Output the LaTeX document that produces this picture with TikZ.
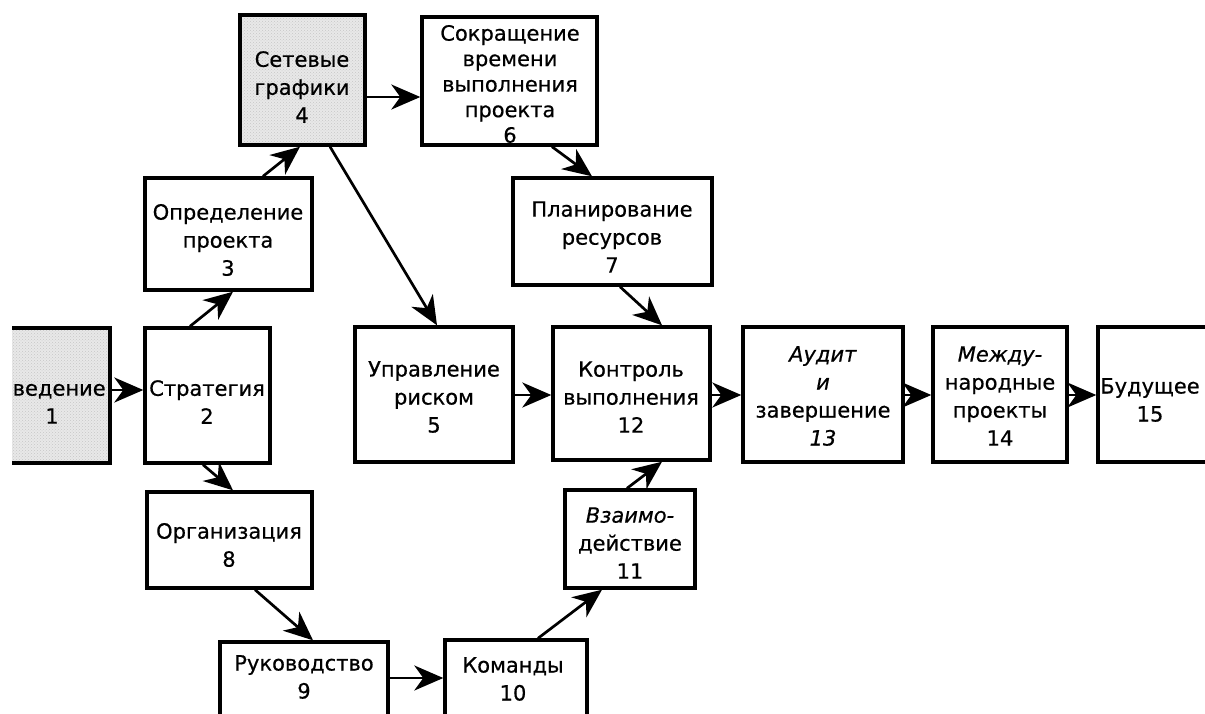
\documentclass[tikz,border=0pt]{standalone}
\usepackage{fontspec}
\setmainfont{DejaVu Sans}
\newfontfamily\boxfont{DejaVu Sans}[FakeBold=0.6]
\usetikzlibrary{arrows.meta,fit,patterns}
\begin{document}
\begin{tikzpicture}[x=1pt,y=-1pt,
  box/.style={draw=black, line width=3.4pt, inner sep=0pt, rectangle},
  shaded/.style={preaction={fill=black!9}, pattern=crosshatch dots, pattern color=black!22},
  lbl/.style={align=center, font=\boxfont\fontsize{21}{28}\selectfont, inner sep=0pt},
  tight/.style={font=\boxfont\fontsize{21}{25.5}\selectfont},
  arr/.style={line width=2.7pt, -{Stealth[length=29pt,width=25pt,inset=9pt]}},
]
\useasboundingbox (0,0) rectangle (1205,713);
\clip (12,0) rectangle (1205,713);

% boxes
\node[box, shaded, fit={(0,328) (110,463)}] (n1) {};
\node[box, fit={(145,328) (270,463)}] (n2) {};
\node[box, fit={(145,178) (312,290)}] (n3) {};
\node[box, shaded, fit={(240,15) (365,145)}] (n4) {};
\node[box, fit={(355,327) (513,462)}] (n5) {};
\node[box, fit={(422,17) (597,145)}] (n6) {};
\node[box, fit={(513,178) (712,285)}] (n7) {};
\node[box, fit={(147,492) (312,588)}] (n8) {};
\node[box, fit={(220,642) (388,735)}] (n9) {};
\node[box, fit={(445,640) (587,735)}] (n10) {};
\node[box, fit={(565,490) (695,588)}] (n11) {};
\node[box, fit={(553,327) (710,460)}] (n12) {};
\node[box, fit={(743,327) (903,462)}] (n13) {};
\node[box, fit={(933,327) (1067,462)}] (n14) {};
\node[box, fit={(1098,327) (1215,462)}] (n15) {};

% labels
\node[lbl] (t1) at (52,402) {Введение\\1};
\node[lbl] (t2) at (207,402) {Стратегия\\2};
\node[lbl] (t3) at (228,240) {Определение\\проекта\\3};
\node[lbl] (t4) at (302,87) {Сетевые\\графики\\4};
\node[lbl] (t5) at (434,397) {Управление\\риском\\5};
\node[lbl, tight] (t6) at (510,84) {Сокращение\\времени\\выполнения\\проекта\\6};
\node[lbl] (t7) at (612,237) {Планирование\\ресурсов\\7};
\node[lbl] (t8) at (229,545) {Организация\\8};
\node[lbl] (t9) at (304,677) {Руководство\\9};
\node[lbl] (t10) at (513,679) {Команды\\10};
\node[lbl] (t11) at (630,543) {\textit{Взаимо-}\\действие\\11};
\node[lbl] (t12) at (631,397) {Контроль\\выполнения\\12};
\node[lbl] (t13) at (823,396) {\textit{Аудит}\\\textit{и}\\завершение\\\textit{13}};
\node[lbl] (t14) at (1000,396) {\textit{Между-}\\народные\\проекты\\14};
\node[lbl] (t15) at (1150,400) {Будущее\\15};

% connectors
\draw[arr] (n1.east |- 0,390) -- (n2.west |- 0,390);
\draw[arr] (n2.north -| 190,0) -- (n3.south -| 233,0);
\draw[arr] (n3.north -| 263,0) -- (n4.south -| 300,0);
\draw[arr] (n4.east |- 0,97) -- (n6.west |- 0,97);
\draw[arr] (n4.south -| 330,0) -- (n5.north -| 437,0);
\draw[arr] (n6.south -| 552,0) -- (n7.north -| 592,0);
\draw[arr] (n7.south -| 620,0) -- (n12.north -| 662,0);
\draw[arr] (n5.east |- 0,395) -- (n12.west |- 0,395);
\draw[arr] (n12.east |- 0,395) -- (n13.west |- 0,395);
\draw[arr] (n13.east |- 0,395) -- (n14.west |- 0,395);
\draw[arr] (n14.east |- 0,395) -- (n15.west |- 0,395);
\draw[arr] (n2.south -| 203,0) -- (n8.north -| 233,0);
\draw[arr] (n8.south -| 255,0) -- (n9.north -| 313,0);
\draw[arr] (n9.east |- 0,678) -- (n10.west |- 0,678);
\draw[arr] (n10.north -| 538,0) -- (n11.south -| 602,0);
\draw[arr] (n11.north -| 627,0) -- (n12.south -| 662,0);
\end{tikzpicture}
\end{document}
